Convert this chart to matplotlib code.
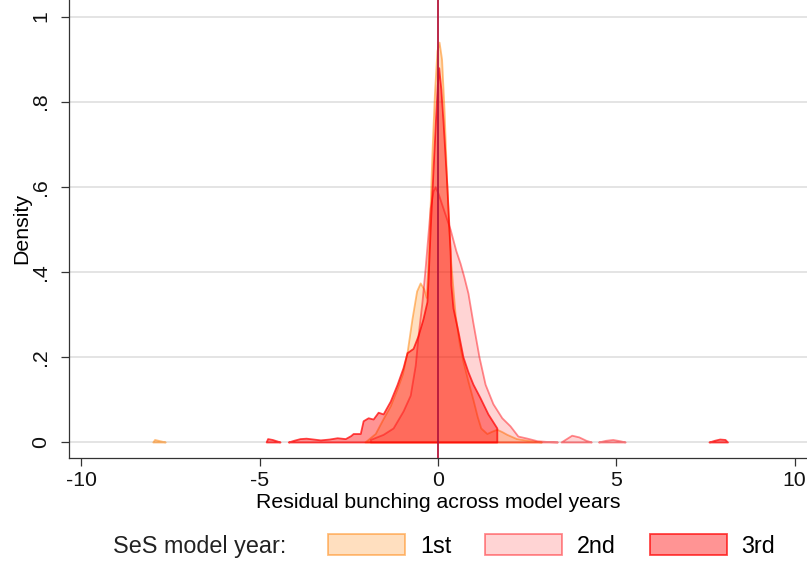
import numpy as np
import matplotlib
matplotlib.use("Agg")
import matplotlib.pyplot as plt
from matplotlib.patches import Patch

plt.rcParams["font.family"] = ["Liberation Sans", "DejaVu Sans"]

# density curves; NaN separates disconnected pieces
x_1st = [-8.0, -7.95, -7.85, -7.75, -7.65, np.nan,
         -2.05, -1.76, -1.54, -1.34, -1.15, -1.0, -0.87, -0.73, -0.6, -0.5, -0.4, -0.33,
         -0.25, -0.17, -0.1, -0.03, 0.03, 0.1, 0.17, 0.24, 0.3, 0.36, 0.48, 0.6, 0.7,
         0.85, 0.98, 1.1, 1.2, 1.37, 1.5, 1.65, 1.8, 1.93, 2.2, 2.6, 2.9]
y_1st = [0.0, 0.006, 0.004, 0.002, 0.0, np.nan,
         0.0, 0.02, 0.055, 0.085, 0.125, 0.16, 0.21, 0.29, 0.355, 0.374, 0.36, 0.34,
         0.48, 0.68, 0.82, 0.92, 0.94, 0.9, 0.78, 0.62, 0.5, 0.42, 0.3, 0.23, 0.19,
         0.14, 0.10, 0.06, 0.033, 0.02, 0.025, 0.03, 0.024, 0.018, 0.008, 0.003, 0.0]

x_2nd = [-1.9, -1.54, -1.26, -0.98, -0.78, -0.64, -0.56, -0.45, -0.36, -0.3, -0.22, -0.14,
         -0.08, 0.0, 0.14, 0.34, 0.5, 0.62, 0.72, 0.84, 0.98, 1.15, 1.32, 1.54, 1.79, 2.02,
         2.24, 2.5, 2.78, 3.1, 3.35, np.nan,
         3.45, 3.6, 3.75, 3.95, 4.15, 4.3, np.nan,
         4.5, 4.7, 4.9, 5.1, 5.25]
y_2nd = [0.006, 0.018, 0.033, 0.073, 0.11, 0.18, 0.25, 0.33, 0.41, 0.47, 0.55, 0.59,
         0.60, 0.585, 0.55, 0.50, 0.45, 0.42, 0.39, 0.35, 0.28, 0.2, 0.136, 0.09, 0.057, 0.038,
         0.014, 0.009, 0.003, 0.001, 0.0, np.nan,
         0.0, 0.008, 0.016, 0.012, 0.004, 0.0, np.nan,
         0.0, 0.004, 0.006, 0.003, 0.0]

x_3rd = [-4.82, -4.78, -4.65, -4.5, -4.43, np.nan,
         -4.2, -4.05, -3.87, -3.7, -3.5, -3.3, -3.05, -2.83, -2.6, -2.45, -2.38, -2.18, -2.1,
         -1.96, -1.82, -1.68, -1.54, -1.34, -1.15, -0.98, -0.87, -0.7, -0.56, -0.42, -0.31,
         -0.27, -0.22, -0.14, -0.07, -0.02, 0.02, 0.08, 0.14, 0.25, 0.34, 0.36, 0.42, 0.56,
         0.7, 0.84, 0.98, 1.18, 1.4, 1.65, np.nan,
         7.6, 7.75, 7.9, 8.05, 8.12]
y_3rd = [0.0, 0.008, 0.006, 0.002, 0.0, np.nan,
         0.0, 0.004, 0.008, 0.009, 0.007, 0.005, 0.007, 0.01, 0.008, 0.015, 0.02, 0.02, 0.05,
         0.057, 0.054, 0.07, 0.066, 0.096, 0.135, 0.175, 0.21, 0.22, 0.25, 0.29, 0.33,
         0.40, 0.5, 0.64, 0.76, 0.84, 0.88, 0.83, 0.755, 0.6, 0.45, 0.37, 0.315, 0.26,
         0.2, 0.165, 0.136, 0.104, 0.066, 0.033, np.nan,
         0.0, 0.004, 0.007, 0.006, 0.0]

series = [("1st", x_1st, y_1st, (1.0, 0.5, 0.0, 0.25), (1.0, 0.5, 0.0, 0.5)),
          ("2nd", x_2nd, y_2nd, (1.0, 0.0, 0.02, 0.17), (1.0, 0.0, 0.03, 0.45)),
          ("3rd", x_3rd, y_3rd, (1.0, 0.0, 0.0, 0.42), (1.0, 0.0, 0.0, 0.72))]

FS = 15.3      # axis text
FS_LEG = 16.8  # legend text


def pieces(x, y):
    x = np.asarray(x, float); y = np.asarray(y, float)
    cut = np.where(np.isnan(x))[0]
    start = 0
    for c in list(cut) + [len(x)]:
        yield x[start:c], y[start:c]
        start = c + 1


fig = plt.figure(figsize=(8.07, 5.63), dpi=100)
ax = fig.add_axes([69 / 807, 1 - 458 / 563, 1 - 69 / 807, 458 / 563])

for name, xs, ys, fc, ec in series:
    for px, py in pieces(xs, ys):
        ax.fill_between(px, py, 0, facecolor=fc, edgecolor=ec, lw=1.3, zorder=2)

ax.axvline(0, color="#B4163C", lw=1.3, zorder=4)

ax.set_xlim(-10.35, 10.35)
ax.set_ylim(-0.0376, 1.039)
ax.set_xticks([-10, -5, 0, 5, 10], ["-10", "-5", "0", "5", "10"])
ax.set_yticks([0, 0.2, 0.4, 0.6, 0.8, 1.0], ["0", ".2", ".4", ".6", ".8", "1"])
plt.setp(ax.get_yticklabels(), rotation=90, va="center")
ax.yaxis.grid(True, color="#DCDCDC", lw=1.1, zorder=0)
ax.set_axisbelow(True)
for s in ("top", "right"):
    ax.spines[s].set_visible(False)
for s in ("left", "bottom"):
    ax.spines[s].set_color("#333333")
    ax.spines[s].set_linewidth(0.9)
ax.tick_params(direction="out", length=5.5, width=0.9, color="#333333", labelsize=FS,
               labelcolor="#111111")
ax.tick_params(axis="x", pad=4)
ax.tick_params(axis="y", pad=8)
ax.set_xlabel("Residual bunching across model years", fontsize=FS, labelpad=2)
ax.set_ylabel("Density", fontsize=FS, labelpad=0)

fig.text(113 / 807, 1 - 546 / 563, "SeS model year:", fontsize=FS_LEG, va="center",
         ha="left", color="#222222")
handles = [Patch(facecolor=fc, edgecolor=ec, lw=1.3) for _, _, _, fc, ec in series]
fig.legend(handles, [s[0] for s in series], loc="center left", ncol=3, frameon=False,
           bbox_to_anchor=(328 / 807, 1 - 546 / 563), borderpad=0, borderaxespad=0,
           handlelength=3.3, handleheight=0.95, handletextpad=0.64, columnspacing=1.45,
           fontsize=FS_LEG)

fig.savefig("out.png", dpi=100)
